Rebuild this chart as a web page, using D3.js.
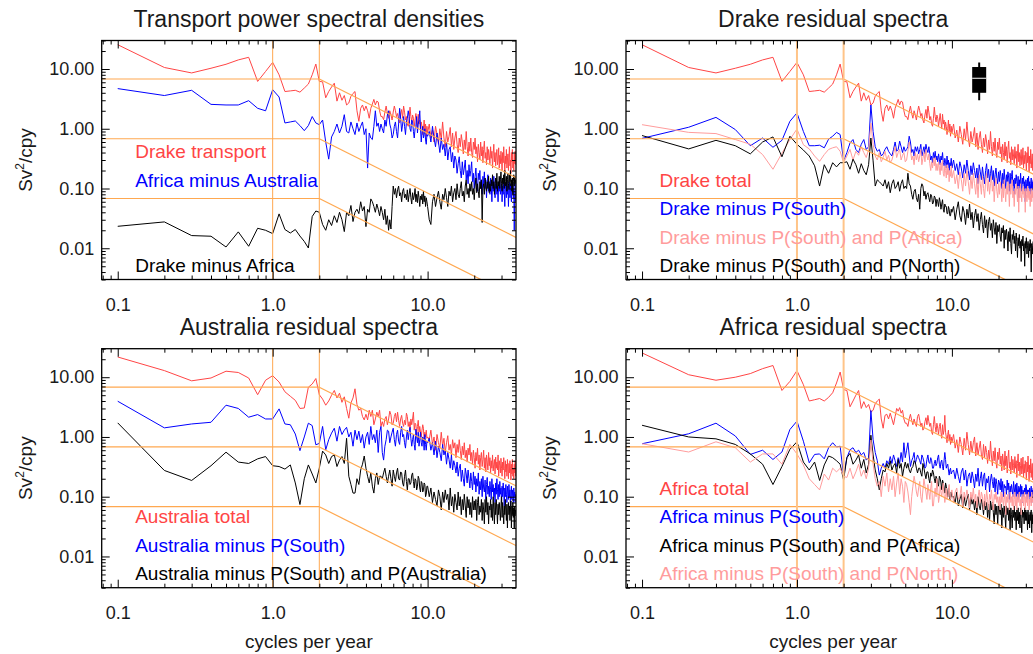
<!DOCTYPE html>
<html>
<head>
<meta charset="utf-8">
<script src="https://cdn.jsdelivr.net/npm/d3@7"></script>
<style>
body { margin: 0; background: #fff; overflow: hidden; }
svg { font-family: "Liberation Sans", Arial, Helvetica, sans-serif; }
</style>
</head>
<body>
<svg id="vis-svg" width="1033" height="654"></svg>
<script>
// frequency grid, cycles per year (shared by all spectra)
var freq = [
  0.1,0.2,0.3,0.4,0.5,0.6,0.7,0.8,0.9,1.0,
  1.1,1.2,1.3,1.4,1.5,1.6,1.7,1.8,1.9,2.0,
  2.1,2.2,2.3,2.4,2.5,2.6,2.7,2.8,2.9,3.0,
  3.1,3.2,3.3,3.4,3.5,3.6,3.7,3.8,3.9,4.0,
  4.1,4.2,4.3,4.4,4.5,4.6,4.7,4.8,4.9,5.0,
  5.1,5.2,5.3,5.4,5.5,5.6,5.7,5.8,5.9,6.0,
  6.1,6.2,6.3,6.4,6.5,6.6,6.7,6.8,6.9,7.0,
  7.1,7.2,7.3,7.4,7.5,7.6,7.7,7.8,7.9,8.0,
  8.1,8.2,8.3,8.4,8.5,8.6,8.7,8.8,8.9,9.0,
  9.1,9.2,9.3,9.4,9.5,9.6,9.7,9.8,9.9,10.0,
  10.25,10.5,10.75,11,11.25,11.5,11.75,12,12.25,12.5,12.75,13,13.25,13.5,13.75,14,
  14.25,14.5,14.75,15,15.25,15.5,15.75,16,16.25,16.5,16.75,17,17.25,17.5,17.75,18,
  18.25,18.5,18.75,19,19.25,19.5,19.75,20,20.25,20.5,20.75,21,21.25,21.5,21.75,22,
  22.25,22.5,22.75,23,23.25,23.5,23.75,24,24.25,24.5,24.75,25,25.25,25.5,25.75,26,
  26.25,26.5,26.75,27,27.25,27.5,27.75,28,28.25,28.5,28.75,29,29.25,29.5,29.75,30,
  30.25,30.5,30.75,31,31.25,31.5,31.75,32,32.25,32.5,32.75,33,33.25,33.5,33.75,34,
  34.25,34.5,34.75,35,35.25,35.5,35.75,36,36.25,36.5,36.75,37
];

// spectra, Sv^2/cpy
var drakeTotal = [
  25.5,10.6,8.6,10.3,12.0,14.2,15.7,6.2,9.1,12.9,
  8.0,4.2,4.3,4.4,4.1,4.8,5.6,8.0,12.1,6.2,
  6.1,3.3,4.2,5.0,5.8,2.9,4.0,3.0,3.6,2.5,
  2.7,3.5,3.9,4.2,2.0,1.33,2.2,2.5,2.0,2.4,
  2.0,1.5,2.2,2.6,3.1,2.5,2.9,2.8,2.0,1.6,
  1.6,1.42,1.9,2.4,1.8,1.5,2.0,1.72,1.4,1.9,
  2.4,2.0,1.6,1.8,1.4,1.25,1.7,2.1,1.5,2.4,
  1.9,1.4,1.6,1.2,1.1,1.5,2.3,1.6,1.3,1.7,
  1.5,1.1,1.4,1.8,1.3,1.0,1.75,1.2,1.4,0.95,
  1.3,1.1,0.8,1.0,1.4,0.9,1.2,0.75,1.1,0.85,
  1.2,0.7,0.95,0.6,1.1,0.8,0.55,1.0,0.65,1.3,0.7,0.5,0.9,0.6,0.75,1.05,
  0.5,0.85,0.45,0.7,0.9,0.55,0.4,0.7,0.5,0.8,0.6,0.38,0.65,0.45,0.9,0.5,
  0.35,0.6,0.42,0.7,0.4,0.33,0.6,0.45,0.7,0.38,0.5,0.28,0.55,0.4,0.3,0.6,
  0.35,0.5,0.27,0.45,0.62,0.32,0.4,0.25,0.5,0.3,0.45,0.35,0.26,0.5,0.32,0.42,
  0.22,0.38,0.55,0.28,0.4,0.24,0.35,0.45,0.25,0.3,0.48,0.22,0.36,0.26,0.42,0.3,
  0.2,0.4,0.27,0.5,0.3,0.19,0.35,0.26,0.45,0.22,0.3,0.38,0.2,0.33,0.5,0.24,
  0.3,0.18,0.4,0.28,0.45,0.22,0.3,0.2,0.38,0.26,0.42,0.25
];
var africaMinusAustralia = [
  4.7,3.6,4.4,2.56,2.5,2.5,2.95,2.2,2.0,4.5,
  3.4,1.25,1.3,1.35,1.13,0.93,1.13,1.6,1.25,1.17,
  1.4,0.6,0.31,0.73,0.9,1.2,0.85,1.1,1.72,0.9,
  0.85,1.3,1.0,0.8,1.25,0.9,1.1,1.3,0.8,1.0,
  0.22,0.85,0.7,0.66,1.1,2.0,1.1,1.25,0.9,1.2,
  1.0,0.85,1.4,1.1,1.7,2.0,1.2,1.0,0.7,0.8,
  1.1,1.3,0.9,0.7,1.2,2.2,1.5,0.9,1.2,1.6,
  1.1,0.8,1.3,1.5,2.0,1.6,1.0,0.9,1.4,1.3,
  0.9,0.7,1.0,1.1,1.6,0.85,1.2,1.4,2.0,1.0,
  0.6,0.9,1.1,0.7,0.8,1.0,0.65,0.55,0.8,0.75,
  0.9,0.6,1.1,0.7,0.5,0.85,0.6,0.4,0.7,0.45,0.55,0.35,0.6,0.3,0.45,0.5,
  0.28,0.4,0.22,0.35,0.3,0.18,0.26,0.34,0.2,0.15,0.28,0.17,0.22,0.3,0.14,0.2,
  0.12,0.25,0.16,0.2,0.28,0.13,0.18,0.1,0.16,0.22,0.12,0.09,0.18,0.14,0.2,0.1,
  0.13,0.08,0.16,0.12,0.19,0.1,0.14,0.07,0.12,0.17,0.09,0.13,0.08,0.15,0.11,0.06,
  0.13,0.09,0.16,0.1,0.07,0.12,0.14,0.08,0.11,0.06,0.13,0.09,0.15,0.08,0.1,0.12,
  0.06,0.11,0.08,0.13,0.09,0.05,0.12,0.1,0.07,0.14,0.08,0.11,0.05,0.1,0.13,0.07,
  0.12,0.08,0.06,0.11,0.09,0.13,0.07,0.1,0.02,0.08,0.12,0.06
];
var drakeMinusAfrica = [
  0.0233,0.0276,0.0163,0.0159,0.0105,0.0188,0.0108,0.0216,0.020,0.0176,
  0.0376,0.0206,0.018,0.0206,0.016,0.013,0.0101,0.034,0.042,0.040,
  0.025,0.02,0.03,0.024,0.035,0.027,0.04,0.03,0.019,0.04,
  0.035,0.052,0.028,0.04,0.045,0.038,0.06,0.042,0.05,0.023,
  0.045,0.04,0.067,0.06,0.05,0.04,0.055,0.045,0.035,0.05,
  0.04,0.03,0.045,0.025,0.035,0.02,0.03,0.021,0.05,0.11,
  0.08,0.1,0.07,0.095,0.11,0.075,0.085,0.06,0.09,0.1,
  0.07,0.08,0.065,0.095,0.06,0.08,0.1,0.07,0.055,0.085,
  0.065,0.075,0.1,0.06,0.08,0.058,0.09,0.07,0.05,0.075,
  0.065,0.08,0.055,0.09,0.06,0.075,0.05,0.07,0.06,0.05,
  0.03,0.025,0.06,0.08,0.05,0.07,0.09,0.06,0.045,0.08,0.065,0.1,0.07,0.05,0.09,0.075,
  0.11,0.06,0.085,0.1,0.065,0.12,0.08,0.07,0.1,0.13,0.075,0.09,0.06,0.11,0.14,0.08,
  0.1,0.07,0.12,0.09,0.13,0.08,0.1,0.065,0.11,0.15,0.085,0.12,0.09,0.07,0.13,0.1,
  0.14,0.027,0.1,0.12,0.08,0.15,0.11,0.09,0.13,0.1,0.16,0.085,0.12,0.09,0.14,0.11,
  0.17,0.1,0.13,0.08,0.12,0.15,0.1,0.18,0.09,0.13,0.11,0.16,0.1,0.14,0.19,0.12,
  0.09,0.15,0.12,0.17,0.1,0.2,0.13,0.11,0.16,0.09,0.14,0.18,0.12,0.1,0.17,0.13,
  0.2,0.11,0.14,0.09,0.15,0.08,0.13,0.17,0.11,0.16,0.12,0.14
];
var drakeMinusSouth = [
  0.69,1.06,1.55,0.97,0.52,0.70,0.49,0.64,1.33,1.84,
  0.9,0.52,0.52,0.53,0.48,0.67,0.75,0.87,0.8,0.29,
  0.4,0.58,0.66,0.45,0.4,0.55,0.66,0.45,0.5,2.5,
  0.9,0.5,0.42,0.45,0.35,0.38,0.45,0.5,0.42,0.38,
  0.35,0.45,0.6,0.42,0.45,0.62,0.5,0.4,0.5,0.42,
  0.45,0.5,0.75,0.6,0.4,0.45,0.35,0.5,0.42,0.5,
  0.38,0.45,0.55,0.35,0.42,0.5,0.38,0.55,0.45,0.4,
  0.5,0.38,0.3,0.35,0.27,0.4,0.32,0.42,0.3,0.35,
  0.28,0.38,0.31,0.25,0.35,0.3,0.4,0.27,0.24,0.32,
  0.28,0.22,0.35,0.25,0.3,0.2,0.27,0.24,0.32,0.22,
  0.3,0.2,0.26,0.17,0.28,0.22,0.15,0.25,0.18,0.3,0.2,0.14,0.24,0.17,0.27,0.2,
  0.15,0.22,0.12,0.25,0.19,0.14,0.23,0.16,0.12,0.2,0.26,0.15,0.21,0.13,0.18,0.24,
  0.14,0.2,0.11,0.17,0.22,0.15,0.12,0.19,0.13,0.2,0.16,0.1,0.18,0.12,0.21,0.14,
  0.1,0.17,0.13,0.19,0.15,0.09,0.18,0.12,0.16,0.2,0.11,0.14,0.08,0.15,0.12,0.17,
  0.13,0.1,0.16,0.07,0.14,0.11,0.18,0.12,0.09,0.15,0.12,0.16,0.1,0.13,0.06,0.14,
  0.12,0.09,0.15,0.11,0.16,0.1,0.13,0.08,0.12,0.15,0.09,0.13,0.1,0.14,0.11,0.08,
  0.13,0.1,0.15,0.09,0.12,0.08,0.14,0.1,0.11,0.13,0.09,0.12
];
var drakeMinusSouthAfrica = [
  1.17,0.87,0.83,0.66,0.55,0.37,0.21,0.39,0.66,0.99,
  0.54,0.46,0.35,0.285,0.37,0.45,0.48,0.5,0.42,0.27,
  0.35,0.45,0.3,0.42,0.36,0.5,0.4,0.33,0.45,1.25,
  0.55,0.35,0.3,0.4,0.28,0.33,0.42,0.3,0.36,0.27,
  0.3,0.38,0.5,0.33,0.4,0.45,0.3,0.36,0.4,0.28,
  0.3,0.42,0.6,0.45,0.3,0.35,0.25,0.4,0.3,0.38,
  0.28,0.35,0.45,0.25,0.32,0.4,0.28,0.45,0.35,0.3,
  0.38,0.26,0.2,0.28,0.22,0.32,0.24,0.33,0.2,0.26,
  0.2,0.28,0.22,0.17,0.27,0.2,0.3,0.18,0.16,0.24,
  0.2,0.15,0.25,0.17,0.22,0.13,0.2,0.16,0.24,0.15,
  0.2,0.12,0.17,0.1,0.19,0.14,0.09,0.18,0.11,0.2,0.13,0.08,0.16,0.1,0.18,0.12,
  0.08,0.15,0.07,0.17,0.12,0.08,0.16,0.1,0.07,0.13,0.18,0.09,0.14,0.08,0.12,0.16,
  0.09,0.13,0.06,0.11,0.15,0.09,0.07,0.12,0.08,0.13,0.1,0.06,0.12,0.07,0.14,0.09,
  0.06,0.11,0.08,0.13,0.1,0.05,0.12,0.08,0.11,0.14,0.07,0.09,0.05,0.1,0.08,0.12,
  0.09,0.06,0.11,0.04,0.1,0.07,0.12,0.08,0.06,0.1,0.08,0.11,0.07,0.09,0.04,0.1,
  0.08,0.06,0.11,0.07,0.1,0.065,0.09,0.05,0.08,0.1,0.06,0.09,0.07,0.1,0.075,0.05,
  0.09,0.065,0.1,0.06,0.08,0.05,0.1,0.07,0.075,0.09,0.06,0.08
];
var drakeMinusSouthNorth = [
  0.77,0.46,0.64,0.52,0.38,0.6,0.73,0.34,0.75,0.55,
  0.44,0.35,0.24,0.11,0.25,0.18,0.27,0.23,0.27,0.27,
  0.28,0.21,0.31,0.25,0.18,0.26,0.2,0.17,0.25,0.7,
  0.29,0.11,0.14,0.13,0.12,0.11,0.14,0.1,0.13,0.085,
  0.12,0.14,0.1,0.11,0.13,0.09,0.12,0.14,0.1,0.11,
  0.1,0.18,0.12,0.11,0.08,0.066,0.09,0.097,0.07,0.06,
  0.08,0.045,0.1,0.12,0.11,0.075,0.09,0.066,0.08,0.085,
  0.07,0.06,0.08,0.075,0.055,0.058,0.075,0.07,0.05,0.066,
  0.06,0.05,0.07,0.06,0.045,0.055,0.065,0.045,0.04,0.055,
  0.05,0.05,0.038,0.038,0.05,0.045,0.035,0.035,0.045,0.04,
  0.05,0.03,0.045,0.06,0.035,0.028,0.05,0.04,0.025,0.045,0.032,0.055,0.03,0.04,0.022,0.035,
  0.045,0.028,0.038,0.02,0.03,0.04,0.025,0.018,0.035,0.022,0.03,0.015,0.028,0.033,0.02,0.026,
  0.015,0.03,0.022,0.017,0.027,0.012,0.024,0.019,0.025,0.016,0.013,0.022,0.018,0.024,0.01,0.02,
  0.014,0.021,0.016,0.009,0.019,0.013,0.022,0.012,0.008,0.017,0.014,0.02,0.012,0.016,0.009,0.018,
  0.013,0.007,0.015,0.011,0.017,0.01,0.013,0.006,0.014,0.011,0.016,0.009,0.012,0.005,0.013,0.01,
  0.015,0.008,0.011,0.013,0.007,0.012,0.009,0.014,0.01,0.004,0.012,0.008,0.011,0.013,0.007,0.01,
  0.012,0.006,0.011,0.009,0.005,0.01,0.012,0.007,0.011,0.008,0.004,0.01
];
var australiaTotal = [
  21.8,12.9,8.7,9.7,12.6,12.0,9.7,5.1,8.9,10.6,
  8.3,5.7,4.8,4.1,3.0,3.05,6.8,7.7,9.5,5.1,
  4.3,3.4,4.0,5.0,6.0,4.5,5.4,3.8,4.7,3.0,
  2.06,3.7,4.5,6.4,3.5,2.8,3.0,2.2,1.93,2.4,
  1.93,2.8,2.2,2.8,1.6,2.0,2.6,2.2,2.8,1.5,
  1.8,1.5,2.0,2.2,1.6,2.0,2.7,2.35,1.6,1.7,
  2.2,2.5,1.8,2.6,1.9,1.5,2.0,2.3,1.7,1.5,
  1.9,1.6,2.5,2.2,1.5,1.8,1.3,2.0,1.6,2.0,
  2.6,1.3,1.7,1.6,1.1,1.5,1.9,1.2,1.5,1.2,
  1.0,1.3,1.6,1.4,0.9,1.2,1.0,1.3,0.95,1.0,
  0.9,1.3,0.75,1.0,0.6,1.1,0.8,0.65,1.2,0.7,0.95,0.55,0.8,1.05,0.6,0.75,
  0.5,0.9,0.65,0.8,0.45,0.75,0.55,0.9,0.6,0.42,0.7,0.5,0.8,0.45,0.6,0.38,
  0.65,0.5,0.75,0.4,0.55,0.35,0.6,0.45,0.3,0.55,0.4,0.65,0.35,0.5,0.28,0.45,
  0.55,0.32,0.42,0.6,0.3,0.45,0.26,0.5,0.38,0.28,0.55,0.33,0.45,0.25,0.4,0.3,
  0.5,0.27,0.35,0.42,0.24,0.46,0.3,0.38,0.28,0.5,0.22,0.4,0.33,0.25,0.44,0.3,
  0.22,0.38,0.28,0.45,0.3,0.2,0.4,0.26,0.35,0.22,0.42,0.28,0.2,0.36,0.25,0.4,
  0.3,0.19,0.35,0.24,0.42,0.22,0.3,0.2,0.35,0.25,0.4,0.22
];
var australiaMinusSouth = [
  3.96,1.42,1.65,1.76,3.4,3.0,2.14,2.37,2.0,2.0,
  2.95,1.65,1.6,1.12,0.59,1.0,1.7,1.55,0.74,0.78,
  1.5,0.61,0.9,1.16,1.4,0.85,1.5,1.1,1.3,1.45,
  1.0,1.2,0.7,1.3,0.9,1.25,0.8,1.1,0.65,1.0,
  1.2,0.75,1.5,0.9,1.1,0.8,1.3,0.55,1.2,1.5,
  0.55,0.41,0.7,0.9,1.3,1.25,0.8,1.0,1.2,1.4,
  0.9,0.7,1.1,1.3,0.85,0.75,1.2,1.5,1.0,1.1,
  0.8,0.65,1.0,1.3,0.9,1.2,1.45,0.95,0.7,0.9,
  1.1,0.75,0.6,1.35,1.0,0.8,1.2,0.7,0.9,1.2,
  0.8,0.7,1.0,0.9,0.6,1.1,0.75,0.6,0.85,0.8,
  0.95,0.6,0.8,0.5,0.85,0.45,0.7,0.55,0.4,0.75,0.5,0.6,0.35,0.55,0.42,0.3,
  0.5,0.28,0.4,0.33,0.25,0.38,0.22,0.3,0.35,0.18,0.28,0.2,0.15,0.3,0.24,0.17,
  0.28,0.2,0.14,0.25,0.18,0.13,0.26,0.16,0.22,0.12,0.2,0.15,0.25,0.11,0.18,0.13,
  0.2,0.1,0.22,0.14,0.12,0.19,0.09,0.16,0.21,0.11,0.15,0.1,0.18,0.13,0.09,0.2,
  0.12,0.16,0.1,0.14,0.08,0.17,0.11,0.2,0.13,0.09,0.16,0.1,0.18,0.11,0.14,0.08,
  0.15,0.1,0.17,0.12,0.07,0.14,0.1,0.16,0.11,0.08,0.15,0.12,0.09,0.16,0.1,0.13,
  0.07,0.12,0.15,0.09,0.13,0.1,0.08,0.14,0.1,0.12,0.08,0.11
];
var australiaMinusSouthAustralia = [
  1.72,0.275,0.187,0.33,0.556,0.38,0.36,0.43,0.47,0.33,
  0.32,0.29,0.34,0.17,0.074,0.2,0.34,0.24,0.17,0.3,
  0.58,0.5,0.36,0.47,0.5,0.32,0.41,0.47,0.36,0.95,
  0.22,0.16,0.115,0.115,0.2,0.16,0.28,0.35,0.48,0.3,
  0.22,0.17,0.25,0.15,0.115,0.2,0.25,0.16,0.22,0.22,
  0.2,0.25,0.3,0.22,0.17,0.22,0.28,0.2,0.15,0.28,
  0.22,0.18,0.25,0.3,0.2,0.19,0.26,0.25,0.17,0.15,
  0.22,0.28,0.18,0.13,0.2,0.2,0.16,0.17,0.23,0.25,
  0.18,0.14,0.2,0.19,0.13,0.15,0.22,0.2,0.14,0.12,
  0.18,0.17,0.12,0.13,0.17,0.16,0.1,0.11,0.15,0.15,
  0.1,0.14,0.08,0.12,0.09,0.07,0.13,0.1,0.06,0.12,0.08,0.13,0.09,0.11,0.06,0.14,
  0.07,0.1,0.055,0.11,0.08,0.06,0.12,0.07,0.1,0.05,0.09,0.06,0.11,0.07,0.045,0.1,
  0.065,0.09,0.05,0.08,0.045,0.1,0.06,0.085,0.06,0.09,0.04,0.08,0.1,0.05,0.07,0.055,
  0.09,0.04,0.08,0.06,0.035,0.09,0.055,0.1,0.05,0.08,0.035,0.07,0.06,0.09,0.045,0.075,
  0.04,0.1,0.06,0.035,0.08,0.05,0.09,0.06,0.035,0.075,0.05,0.08,0.06,0.04,0.07,0.1,
  0.045,0.08,0.055,0.035,0.07,0.05,0.09,0.06,0.04,0.075,0.03,0.065,0.08,0.05,0.07,0.04,
  0.06,0.085,0.03,0.07,0.05,0.08,0.045,0.065,0.03,0.07,0.05,0.06
];
var africaTotal = [
  25.5,11.0,8.9,10.0,11.5,13.9,15.7,6.0,8.5,12.9,
  7.5,4.0,4.2,4.4,4.0,4.6,5.5,8.0,12.2,6.2,
  6.0,3.2,4.0,5.0,6.0,3.0,3.9,3.1,3.5,2.6,
  2.8,3.6,4.0,4.3,2.0,1.4,2.3,2.4,2.0,2.5,
  2.0,1.6,2.2,3.0,2.7,3.1,2.5,2.8,2.0,1.7,
  1.7,1.5,2.0,2.4,1.9,1.6,2.0,1.7,1.5,2.2,
  2.4,1.9,1.5,1.7,1.3,1.4,1.8,2.1,1.6,2.3,
  1.8,1.5,1.7,1.2,1.1,1.6,2.2,1.5,1.2,1.7,
  1.4,1.1,1.5,1.7,1.2,0.95,1.6,1.1,1.3,2.3,
  1.2,1.0,0.8,1.1,1.3,0.85,1.1,0.75,1.0,0.8,
  1.1,0.65,0.9,0.55,1.0,0.75,0.5,0.95,0.6,1.2,0.75,0.5,0.85,0.55,0.8,1.0,
  0.48,0.8,0.5,0.65,0.85,0.5,0.42,0.75,0.45,0.7,0.55,0.36,0.6,0.42,0.85,0.48,
  0.33,0.58,0.4,0.66,0.38,0.3,0.56,0.42,0.65,0.35,0.48,0.27,0.52,0.38,0.28,0.58,
  0.33,0.48,0.25,0.44,0.6,0.3,0.38,0.24,0.48,0.28,0.42,0.33,0.25,0.47,0.3,0.4,
  0.21,0.36,0.52,0.27,0.38,0.23,0.33,0.44,0.24,0.29,0.46,0.21,0.35,0.25,0.4,0.28,
  0.19,0.38,0.26,0.48,0.29,0.18,0.34,0.25,0.43,0.21,0.29,0.36,0.19,0.32,0.47,0.23,
  0.29,0.17,0.38,0.27,0.43,0.21,0.29,0.19,0.36,0.25,0.4,0.24
];
var africaMinusSouth = [
  0.77,1.13,1.7,1.04,0.51,0.6,0.42,0.56,1.33,1.84,
  0.85,0.37,0.51,0.52,0.43,0.66,0.8,0.68,0.7,0.22,
  0.45,0.61,0.66,0.55,0.6,0.5,0.55,0.41,0.45,2.77,
  0.9,0.55,0.4,0.23,0.3,0.36,0.3,0.4,0.35,0.47,
  0.36,0.5,0.4,0.32,0.45,0.36,0.55,0.38,0.8,0.45,
  0.6,0.8,0.5,0.32,0.4,0.45,0.55,0.36,0.42,0.5,
  0.45,0.4,0.35,0.5,0.45,0.38,0.3,0.32,0.42,0.5,
  0.38,0.36,0.45,0.4,0.3,0.3,0.36,0.41,0.33,0.36,
  0.45,0.5,0.35,0.3,0.38,0.41,0.32,0.28,0.4,0.55,
  0.42,0.3,0.33,0.35,0.28,0.23,0.28,0.3,0.24,0.26,
  0.28,0.2,0.3,0.22,0.17,0.26,0.3,0.19,0.28,0.15,0.22,0.25,0.17,0.26,0.2,0.14,
  0.24,0.18,0.3,0.15,0.2,0.26,0.15,0.22,0.25,0.13,0.2,0.17,0.22,0.12,0.19,0.24,
  0.18,0.14,0.21,0.12,0.2,0.16,0.11,0.19,0.17,0.13,0.2,0.12,0.18,0.1,0.16,0.14,
  0.15,0.11,0.19,0.13,0.17,0.09,0.15,0.12,0.16,0.13,0.1,0.18,0.14,0.11,0.16,0.1,
  0.17,0.12,0.09,0.15,0.14,0.1,0.16,0.11,0.15,0.08,0.13,0.12,0.1,0.14,0.11,0.16,
  0.15,0.09,0.13,0.11,0.13,0.1,0.14,0.09,0.12,0.15,0.08,0.13,0.1,0.14,0.11,0.12,
  0.09,0.13,0.12,0.1,0.14,0.1,0.12,0.09,0.13,0.11,0.14,0.1
];
var africaMinusSouthAfrica = [
  1.57,1.0,0.93,0.75,0.52,0.35,0.16,0.32,0.62,0.83,
  0.38,0.28,0.38,0.187,0.34,0.48,0.45,0.4,0.35,0.19,
  0.45,0.53,0.35,0.41,0.5,0.3,0.42,0.25,0.35,1.07,
  0.5,0.28,0.2,0.13,0.2,0.28,0.26,0.36,0.3,0.4,
  0.28,0.33,0.36,0.25,0.42,0.3,0.36,0.22,0.3,0.38,
  0.3,0.36,0.28,0.25,0.3,0.32,0.4,0.38,0.3,0.25,
  0.3,0.3,0.25,0.22,0.36,0.3,0.24,0.2,0.26,0.26,
  0.2,0.17,0.25,0.22,0.28,0.25,0.2,0.17,0.22,0.2,
  0.16,0.15,0.22,0.2,0.17,0.13,0.19,0.17,0.14,0.115,
  0.17,0.15,0.12,0.1,0.14,0.13,0.09,0.09,0.12,0.1,
  0.1,0.08,0.12,0.07,0.09,0.11,0.065,0.1,0.07,0.09,0.11,0.06,0.1,0.075,0.09,0.06,
  0.085,0.05,0.1,0.07,0.06,0.09,0.075,0.05,0.085,0.06,0.08,0.045,0.075,0.04,0.085,0.06,
  0.08,0.055,0.035,0.075,0.05,0.07,0.035,0.075,0.06,0.05,0.075,0.03,0.065,0.045,0.07,0.05,
  0.03,0.07,0.05,0.065,0.04,0.06,0.028,0.065,0.05,0.03,0.06,0.045,0.07,0.04,0.055,0.028,
  0.06,0.04,0.065,0.035,0.055,0.03,0.065,0.04,0.025,0.06,0.045,0.055,0.035,0.065,0.04,0.06,
  0.04,0.055,0.028,0.06,0.035,0.05,0.03,0.055,0.04,0.06,0.025,0.05,0.035,0.055,0.03,0.045,
  0.05,0.028,0.055,0.035,0.045,0.03,0.05,0.04,0.025,0.05,0.035,0.045
];
var africaMinusSouthNorth = [
  0.77,0.56,0.83,0.66,0.38,0.52,0.52,0.35,0.75,0.52,
  0.34,0.2,0.16,0.13,0.24,0.19,0.3,0.26,0.3,0.22,
  0.21,0.3,0.2,0.26,0.35,0.22,0.28,0.2,0.3,0.89,
  0.35,0.2,0.15,0.18,0.1,0.22,0.15,0.25,0.12,0.2,
  0.13,0.22,0.1,0.17,0.25,0.11,0.2,0.15,0.08,0.18,
  0.16,0.12,0.08,0.05,0.1,0.15,0.22,0.17,0.12,0.1,
  0.14,0.18,0.1,0.08,0.13,0.2,0.15,0.12,0.09,0.16,
  0.12,0.09,0.14,0.18,0.07,0.07,0.11,0.14,0.1,0.2,
  0.13,0.08,0.1,0.15,0.12,0.1,0.14,0.17,0.11,0.08,
  0.1,0.14,0.09,0.1,0.13,0.16,0.1,0.09,0.12,0.13,
  0.08,0.12,0.14,0.09,0.1,0.15,0.07,0.12,0.09,0.13,0.1,0.065,0.12,0.09,0.14,0.08,
  0.11,0.065,0.1,0.13,0.08,0.12,0.1,0.06,0.11,0.07,0.13,0.09,0.06,0.11,0.09,0.13,
  0.08,0.06,0.11,0.09,0.12,0.08,0.1,0.07,0.1,0.06,0.12,0.08,0.11,0.07,0.09,0.12,
  0.05,0.1,0.08,0.11,0.09,0.06,0.12,0.08,0.1,0.07,0.11,0.06,0.09,0.12,0.07,0.1,
  0.06,0.11,0.08,0.1,0.12,0.07,0.09,0.05,0.1,0.08,0.11,0.07,0.09,0.12,0.06,0.1,
  0.08,0.11,0.07,0.1,0.12,0.06,0.09,0.08,0.1,0.07,0.12,0.08,0.09,0.11,0.06,0.1,
  0.08,0.12,0.07,0.09,0.11,0.08,0.1,0.06,0.09,0.11,0.07,0.1
];

// orange reference lines: flat levels up to 2 cpy, then power law
var refLevels = [6.8, 0.68, 0.068];
var refCorner = 2;
var refSlope = -1.3;
var refVerticals = [1, 2];

// confidence bar drawn in the Drake panel
var ciFreq = 15;
var ciWhisker = [3.0, 12.9];
var ciBox = [4.0, 10.8];
var ciMid = 7.0;

var xTicksMajor = [0.1, 1, 10];
var yTicksMajor = [0.01, 0.1, 1, 10];

var red = "#ff4545", blue = "#0000ff", pink = "#ff9c9c", black = "#000000", orange = "#ffa850";

var W = 414.3, H = 239;

var x = d3.scaleLog().domain([0.0788, 37.2]).range([0, W]);
var y = d3.scaleLog().domain([0.003, 30]).range([H, 0]);

var line = d3.line()
  .x(function(d) { return x(d[0]); })
  .y(function(d) { return y(d[1]); });

var panels = [
  {left: 101.7, top: 40.5, title: "Transport power spectral densities", xTitle: false, ci: false, vWidth: 1, vColor: orange,
   series: [
     {values: drakeTotal, color: red, label: "Drake transport", slot: 4},
     {values: africaMinusAustralia, color: blue, label: "Africa minus Australia", slot: 3},
     {values: drakeMinusAfrica, color: black, label: "Drake minus Africa", slot: 0}
   ]},
  {left: 626, top: 40.5, title: "Drake residual spectra", xTitle: false, ci: true, vWidth: 2, vColor: "#ffc488",
   series: [
     {values: drakeTotal, color: red, label: "Drake total", slot: 3},
     {values: drakeMinusSouth, color: blue, label: "Drake minus P(South)", slot: 2},
     {values: drakeMinusSouthAfrica, color: pink, label: "Drake minus P(South) and P(Africa)", slot: 1},
     {values: drakeMinusSouthNorth, color: black, label: "Drake minus P(South) and P(North)", slot: 0}
   ]},
  {left: 101.7, top: 348.7, title: "Australia residual spectra", xTitle: true, ci: false, vWidth: 1, vColor: orange,
   series: [
     {values: australiaTotal, color: red, label: "Australia total", slot: 2},
     {values: australiaMinusSouth, color: blue, label: "Australia minus P(South)", slot: 1},
     {values: australiaMinusSouthAustralia, color: black, label: "Australia minus P(South) and P(Australia)", slot: 0}
   ]},
  {left: 626, top: 348.7, title: "Africa residual spectra", xTitle: true, ci: false, vWidth: 2, vColor: "#ffc488",
   series: [
     {values: africaTotal, color: red, label: "Africa total", slot: 3},
     {values: africaMinusSouth, color: blue, label: "Africa minus P(South)", slot: 2},
     {values: africaMinusSouthAfrica, color: black, label: "Africa minus P(South) and P(Africa)", slot: 1},
     {values: africaMinusSouthNorth, color: pink, label: "Africa minus P(South) and P(North)", slot: 0}
   ]}
];

var svg = d3.select("#vis-svg");

function styleAxis(g) {
  g.select(".domain").remove();
  g.selectAll("line").attr("stroke", "#000").attr("stroke-width", 1);
  g.selectAll("text").style("font-size", "18px").style("font-family", "Liberation Sans, Arial, sans-serif").attr("fill", "#1a1a1a");
}

panels.forEach(function(p, i) {
  var g = svg.append("g").attr("transform", "translate(" + p.left + "," + p.top + ")");

  g.append("clipPath").attr("id", "clip" + i)
    .append("rect").attr("width", W).attr("height", H);
  var plot = g.append("g").attr("clip-path", "url(#clip" + i + ")");

  // spectra
  p.series.forEach(function(s) {
    var pts = freq.map(function(f, k) { return [f, s.values[k]]; });
    plot.append("path")
      .datum(pts)
      .attr("fill", "none")
      .attr("stroke", s.color)
      .attr("stroke-width", 1)
      .attr("stroke-linejoin", "round")
      .attr("d", line);
  });

  // legend
  p.series.forEach(function(s) {
    g.append("text")
      .attr("x", 33.5)
      .attr("y", H - 7.5 - 28.5 * s.slot)
      .attr("fill", s.color)
      .style("font-size", "19px")
      .text(s.label);
  });

  // reference lines
  refLevels.forEach(function(v) {
    var fEnd = x.domain()[1];
    plot.append("line")
      .attr("x1", 0).attr("x2", x(refCorner))
      .attr("y1", y(v)).attr("y2", y(v))
      .attr("stroke", orange).attr("stroke-width", 1.2);
    plot.append("line")
      .attr("x1", x(refCorner)).attr("y1", y(v))
      .attr("x2", x(fEnd)).attr("y2", y(v * Math.pow(fEnd / refCorner, refSlope)))
      .attr("stroke", orange).attr("stroke-width", 1.2);
  });
  refVerticals.forEach(function(f) {
    plot.append("line")
      .attr("x1", x(f)).attr("x2", x(f))
      .attr("y1", 0).attr("y2", H)
      .attr("stroke", p.vColor).attr("stroke-width", p.vWidth);
  });

  if (p.ci) {
    plot.append("line")
      .attr("x1", x(ciFreq)).attr("x2", x(ciFreq))
      .attr("y1", y(ciWhisker[0])).attr("y2", y(ciWhisker[1]))
      .attr("stroke", "#000").attr("stroke-width", 2);
    plot.append("rect")
      .attr("x", x(ciFreq) - 7).attr("width", 14)
      .attr("y", y(ciBox[1])).attr("height", y(ciBox[0]) - y(ciBox[1]))
      .attr("fill", "#000");
    plot.append("line")
      .attr("x1", x(ciFreq) - 7).attr("x2", x(ciFreq) + 7)
      .attr("y1", y(ciMid)).attr("y2", y(ciMid))
      .attr("stroke", "#fff").attr("stroke-width", 1.2);
  }

  // axes, ticks pointing inward on all four sides
  var xMinor = x.ticks().filter(function(t) { return xTicksMajor.indexOf(+t.toPrecision(6)) < 0; });
  var yMinor = y.ticks().filter(function(t) { return yTicksMajor.indexOf(+t.toPrecision(6)) < 0; });

  g.append("g").attr("transform", "translate(0," + H + ")")
    .call(d3.axisBottom(x).tickValues(xMinor).tickSize(-4).tickFormat(""))
    .call(styleAxis);
  g.append("g").attr("transform", "translate(0," + H + ")")
    .call(d3.axisBottom(x).tickValues(xTicksMajor).tickSize(-8).tickPadding(19).tickFormat(d3.format(".1f")))
    .call(styleAxis);
  g.append("g")
    .call(d3.axisTop(x).tickValues(xMinor).tickSize(-4).tickFormat(""))
    .call(styleAxis);
  g.append("g")
    .call(d3.axisTop(x).tickValues(xTicksMajor).tickSize(-8).tickFormat(""))
    .call(styleAxis);

  g.append("g")
    .call(d3.axisLeft(y).tickValues(yMinor).tickSize(-4).tickFormat(""))
    .call(styleAxis);
  g.append("g")
    .call(d3.axisLeft(y).tickValues(yTicksMajor).tickSize(-8).tickPadding(7.5).tickFormat(d3.format(".2f")))
    .call(styleAxis);
  g.append("g").attr("transform", "translate(" + W + ",0)")
    .call(d3.axisRight(y).tickValues(yMinor).tickSize(-4).tickFormat(""))
    .call(styleAxis);
  g.append("g").attr("transform", "translate(" + W + ",0)")
    .call(d3.axisRight(y).tickValues(yTicksMajor).tickSize(-8).tickFormat(""))
    .call(styleAxis);

  // frame
  g.append("rect")
    .attr("width", W).attr("height", H)
    .attr("fill", "none").attr("stroke", "#000").attr("stroke-width", 1.3);

  // title
  g.append("text")
    .attr("x", W / 2).attr("y", -13.5)
    .attr("text-anchor", "middle")
    .attr("fill", "#1a1a1a")
    .style("font-size", "23px")
    .text(p.title);

  // y label
  var yl = g.append("text")
    .attr("transform", "rotate(-90)")
    .attr("x", -H / 2).attr("y", -70)
    .attr("text-anchor", "middle")
    .attr("fill", "#1a1a1a")
    .style("font-size", "19px");
  yl.append("tspan").text("Sv");
  yl.append("tspan").attr("dy", -8).style("font-size", "12px").text("2");
  yl.append("tspan").attr("dy", 8).text("/cpy");

  if (p.xTitle) {
    g.append("text")
      .attr("x", W / 2).attr("y", H + 60.5)
      .attr("text-anchor", "middle")
      .attr("fill", "#1a1a1a")
      .style("font-size", "19px")
      .text("cycles per year");
  }
});
</script>
</body>
</html>
